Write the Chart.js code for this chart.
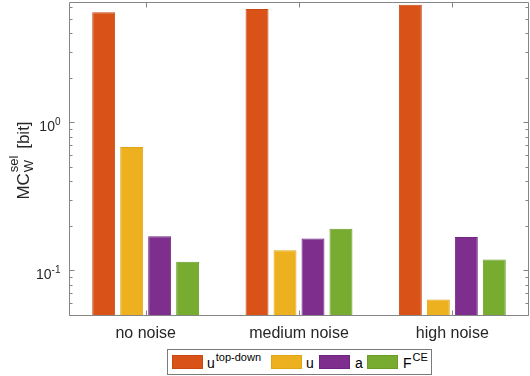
<!DOCTYPE html>
<html>
<head>
<meta charset="utf-8">
<script src="https://cdn.jsdelivr.net/npm/chart.js@4/dist/chart.umd.min.js"></script>
<style>
html,body{margin:0;padding:0;background:#fff;}
#wrap{position:relative;width:530px;height:376px;overflow:hidden;}
#c{position:absolute;left:0;top:0;}
#legend{position:absolute;left:167px;top:349px;width:265px;height:26px;box-sizing:border-box;border:1px solid #7a7a7a;background:#fff;font-family:"Liberation Sans",Arial,Helvetica,sans-serif;color:#000;}
#legend .sw{position:absolute;top:5px;width:31px;height:14px;box-sizing:border-box;border:1px solid;}
#legend .tx{position:absolute;top:5px;font-size:14px;line-height:normal;white-space:nowrap;}
#legend .tx sup{font-size:11px;vertical-align:baseline;position:relative;top:-7px;margin-left:1px;}
</style>
</head>
<body>
<div id="wrap">
<canvas id="c" width="530" height="376"></canvas>
<div id="legend"></div>
</div>
<script>
// ---- data ----
const categories = ['no noise', 'medium noise', 'high noise'];
const seriesBase = ['u', 'u', 'a', 'F'];
const seriesSup = ['top-down', '', '', 'CE'];
const uTopDown = [5.55, 5.84, 6.22];
const uValues = [0.683, 0.137, 0.0637];
const aValues = [0.170, 0.164, 0.168];
const fceValues = [0.1145, 0.191, 0.1186];
const yMajorTicks = [0.1, 1];
const yTickBase = ['10', '10'];
const yTickExp = ['-1', '0'];
const yMin = 0.05, yMax = 6.5;

const fills = ['#D95319', '#EDB120', '#7E2F8E', '#77AC30'];
const edges = ['#C84A12', '#E0A514', '#6F2480', '#6A9D27'];
const seriesValues = [uTopDown, uValues, aValues, fceValues];

const FONT = '"Liberation Sans", Arial, Helvetica, sans-serif';
const AXIS = '#858585';
const TXT = '#262626';

const axesPlugin = {
  id: 'matlabAxes',
  afterDraw(chart) {
    const ctx = chart.ctx;
    const a = chart.chartArea;
    const xs = chart.scales.x, ys = chart.scales.y;
    ctx.save();
    ctx.strokeStyle = AXIS;
    ctx.lineWidth = 1;
    const L = Math.round(a.left) + 0.5, R = Math.round(a.right) - 0.5;
    const T = Math.round(a.top) + 0.5, B = Math.round(a.bottom) + 0.5;
    ctx.beginPath();
    ctx.rect(L, T, R - L, B - T);
    ctx.stroke();
    // y ticks (log, major + minor), left & right, inward
    ctx.beginPath();
    for (let e = -3; e <= 2; e++) {
      for (let m = 1; m <= 9; m++) {
        const v = m * Math.pow(10, e);
        if (v < yMin || v > yMax) continue;
        const y = Math.round(ys.getPixelForValue(v)) + 0.5;
        const len = m === 1 ? 5 : 3;
        ctx.moveTo(L, y); ctx.lineTo(L + len, y);
        ctx.moveTo(R, y); ctx.lineTo(R - len, y);
      }
    }
    // x ticks at category centres, bottom & top, inward
    categories.forEach((c, i) => {
      const x = Math.round(xs.getPixelForValue(i)) + 0.5;
      ctx.moveTo(x, B); ctx.lineTo(x, B - 5);
      ctx.moveTo(x, T); ctx.lineTo(x, T + 5);
    });
    ctx.stroke();

    // y tick labels 10^n
    ctx.fillStyle = TXT;
    ctx.textAlign = 'left';
    ctx.textBaseline = 'alphabetic';
    yMajorTicks.forEach((v, i) => {
      const y = ys.getPixelForValue(v);
      ctx.font = '10px ' + FONT;
      const we = ctx.measureText(yTickExp[i]).width;
      ctx.font = '14px ' + FONT;
      const wb = ctx.measureText(yTickBase[i]).width;
      const right = L - 9;
      ctx.fillText(yTickBase[i], right - we - wb, y + 8.5);
      ctx.font = '10px ' + FONT;
      ctx.fillText(yTickExp[i], right - we, y + 3);
    });

    // x tick labels
    ctx.font = '16px ' + FONT;
    ctx.textAlign = 'center';
    categories.forEach((c, i) => {
      ctx.fillText(c, xs.getPixelForValue(i), B + 22);
    });

    // y axis title MC_W^sel [bit]
    const cy = (a.top + a.bottom) / 2 + 2;
    ctx.translate(29, cy);
    ctx.rotate(-Math.PI / 2);
    ctx.textAlign = 'left';
    ctx.font = '17px ' + FONT;
    const wMC = ctx.measureText('MC').width;
    const wBit = ctx.measureText(' [bit]').width;
    ctx.font = '13px ' + FONT;
    const wSel = ctx.measureText('sel').width;
    const wW = ctx.measureText('W').width;
    const wSS = Math.max(wSel, wW) + 3;
    const total = wMC + wSS + wBit;
    let x0 = -total / 2;
    ctx.font = '17px ' + FONT;
    ctx.fillText('MC', x0, 0);
    ctx.font = '13px ' + FONT;
    ctx.fillText('sel', x0 + wMC + 1, -11);
    ctx.fillText('W', x0 + wMC + 1, 4);
    ctx.font = '17px ' + FONT;
    ctx.fillText(' [bit]', x0 + wMC + wSS, 0);
    ctx.restore();
  }
};

const chart = new Chart(document.getElementById('c').getContext('2d'), {
  type: 'bar',
  data: {
    labels: categories,
    datasets: seriesValues.map((vals, i) => ({
      label: seriesBase[i] + seriesSup[i],
      data: vals,
      backgroundColor: fills[i],
      borderColor: edges[i],
      borderWidth: 1,
      categoryPercentage: 0.73,
      barPercentage: 0.82
    }))
  },
  options: {
    responsive: false,
    animation: false,
    layout: { padding: { left: 69, top: 2, right: 1, bottom: 61 } },
    plugins: { legend: { display: false }, tooltip: { enabled: false } },
    scales: {
      x: { display: false, offset: true },
      y: { type: 'logarithmic', display: false, min: yMin, max: yMax }
    }
  },
  plugins: [axesPlugin]
});

// HTML legend with superscripts
const legend = document.getElementById('legend');
const swLeft = [4, 103, 151, 199];
const txLeft = [39, 138, 187, 235];
seriesBase.forEach((b, i) => {
  const sw = document.createElement('div');
  sw.className = 'sw';
  sw.style.left = swLeft[i] + 'px';
  sw.style.background = fills[i];
  sw.style.borderColor = edges[i];
  legend.appendChild(sw);
  const tx = document.createElement('div');
  tx.className = 'tx';
  tx.style.left = txLeft[i] + 'px';
  tx.textContent = b;
  if (seriesSup[i]) {
    const s = document.createElement('sup');
    s.textContent = seriesSup[i];
    tx.appendChild(s);
  }
  legend.appendChild(tx);
});
</script>
</body>
</html>
